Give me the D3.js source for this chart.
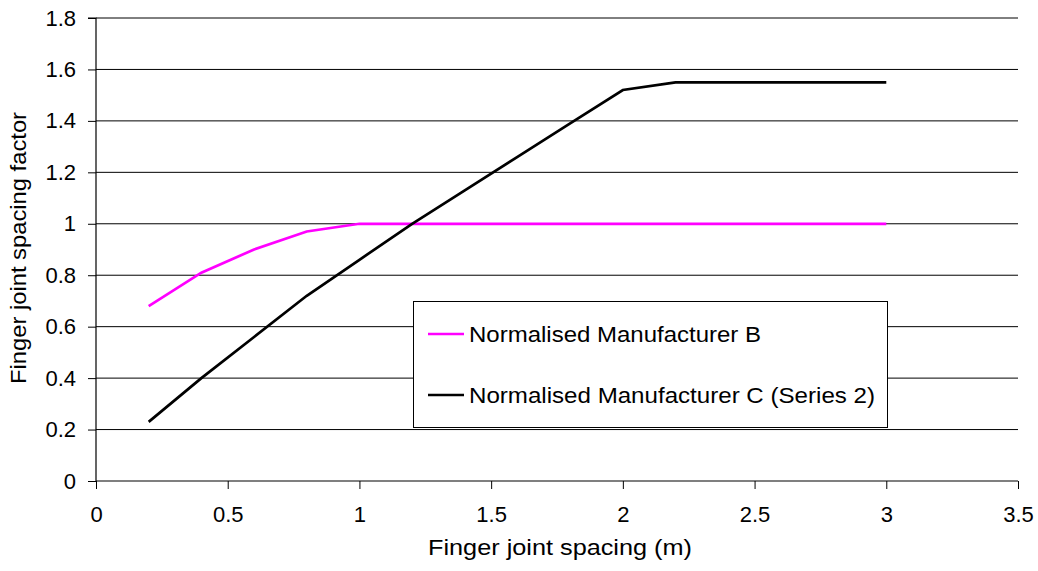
<!DOCTYPE html>
<html><head><meta charset="utf-8">
<script src="https://cdn.jsdelivr.net/npm/d3@7"></script>
<style>body{margin:0;background:#fff;}text{font-family:"Liberation Sans",Arial,sans-serif;}</style>
</head><body>
<svg id="c" width="1038" height="571"></svg>
<script>
const xValues = [0.2,0.4,0.6,0.8,1.0,1.2,1.4,1.6,1.8,2.0,2.2,2.4,2.6,2.8,3.0];
const seriesB = [0.68,0.81,0.90,0.97,1.0,1.0,1.0,1.0,1.0,1.0,1.0,1.0,1.0,1.0,1.0];
const seriesC = [0.23,0.40,0.56,0.72,0.86,1.0,1.13,1.26,1.39,1.52,1.55,1.55,1.55,1.55,1.55];
const seriesNames = ["Normalised Manufacturer B","Normalised Manufacturer C (Series 2)"];
const seriesColors = ["#ff00ff","#000000"];
const xTicks = [0,0.5,1,1.5,2,2.5,3,3.5];
const yTicks = [0,0.2,0.4,0.6,0.8,1,1.2,1.4,1.6,1.8];
const xTitle = "Finger joint spacing (m)";
const yTitle = "Finger joint spacing factor";

const svg = d3.select("#c");
const x = d3.scaleLinear().domain([0,3.5]).range([96,1018]);
const y = d3.scaleLinear().domain([0,1.8]).range([481,18]);
const FS = 22;

// gridlines
svg.append("g").selectAll("line").data(yTicks.filter(d=>d>0)).join("line")
  .attr("x1",x(0)).attr("x2",x(3.5)).attr("y1",d=>y(d)).attr("y2",d=>y(d))
  .attr("stroke","#000").attr("stroke-width",1);

const fmt = d=>String(d);
const gx = svg.append("g").attr("transform",`translate(0,${y(0)})`)
  .call(d3.axisBottom(x).tickValues(xTicks).tickFormat(fmt).tickSize(8).tickPadding(17));
const gy = svg.append("g").attr("transform",`translate(${x(0)},0)`)
  .call(d3.axisLeft(y).tickValues(yTicks).tickFormat(fmt).tickSize(8).tickPadding(12));
[gx,gy].forEach(g=>{
  g.select(".domain").attr("stroke","#000").attr("stroke-width",1.2);
  g.selectAll(".tick line").attr("stroke","#000");
  g.selectAll("text").attr("font-size",FS).attr("fill","#000").style("font-family","Liberation Sans, Arial, sans-serif");
});
gy.select(".domain").attr("d",`M-8,${y(1.8)}H0V${y(0)}`);
gx.select(".domain").attr("d",`M${x(0)},0H${x(3.5)}`);

const line = d3.line().x((d,i)=>x(xValues[i])).y(d=>y(d));
[seriesB, seriesC].forEach((s,k)=>{
  svg.append("path").datum(s).attr("d",line).attr("fill","none")
    .attr("stroke",seriesColors[k]).attr("stroke-width",2.7).attr("stroke-linejoin","miter");
});

// axis titles
svg.append("text").attr("x",560).attr("y",555).attr("text-anchor","middle")
  .attr("font-size",FS).attr("textLength",264).attr("lengthAdjust","spacingAndGlyphs").text(xTitle);
svg.append("text").attr("transform","translate(26,248) rotate(-90)").attr("text-anchor","middle")
  .attr("font-size",FS).attr("textLength",272).attr("lengthAdjust","spacingAndGlyphs").text(yTitle);

// legend
const legendLens = [292,406];
const lg = svg.append("g");
lg.append("rect").attr("x",413.5).attr("y",301.5).attr("width",474).attr("height",126)
  .attr("fill","#fff").attr("stroke","#000").attr("stroke-width",1);
seriesNames.forEach((n,i)=>{
  const cy = 334 + i*61;
  lg.append("line").attr("x1",428).attr("x2",464).attr("y1",cy).attr("y2",cy)
    .attr("stroke",seriesColors[i]).attr("stroke-width",2.7);
  lg.append("text").attr("x",469).attr("y",cy+8.3).attr("font-size",FS)
    .attr("textLength",legendLens[i]).attr("lengthAdjust","spacingAndGlyphs").text(n);
});
</script>
</body></html>
